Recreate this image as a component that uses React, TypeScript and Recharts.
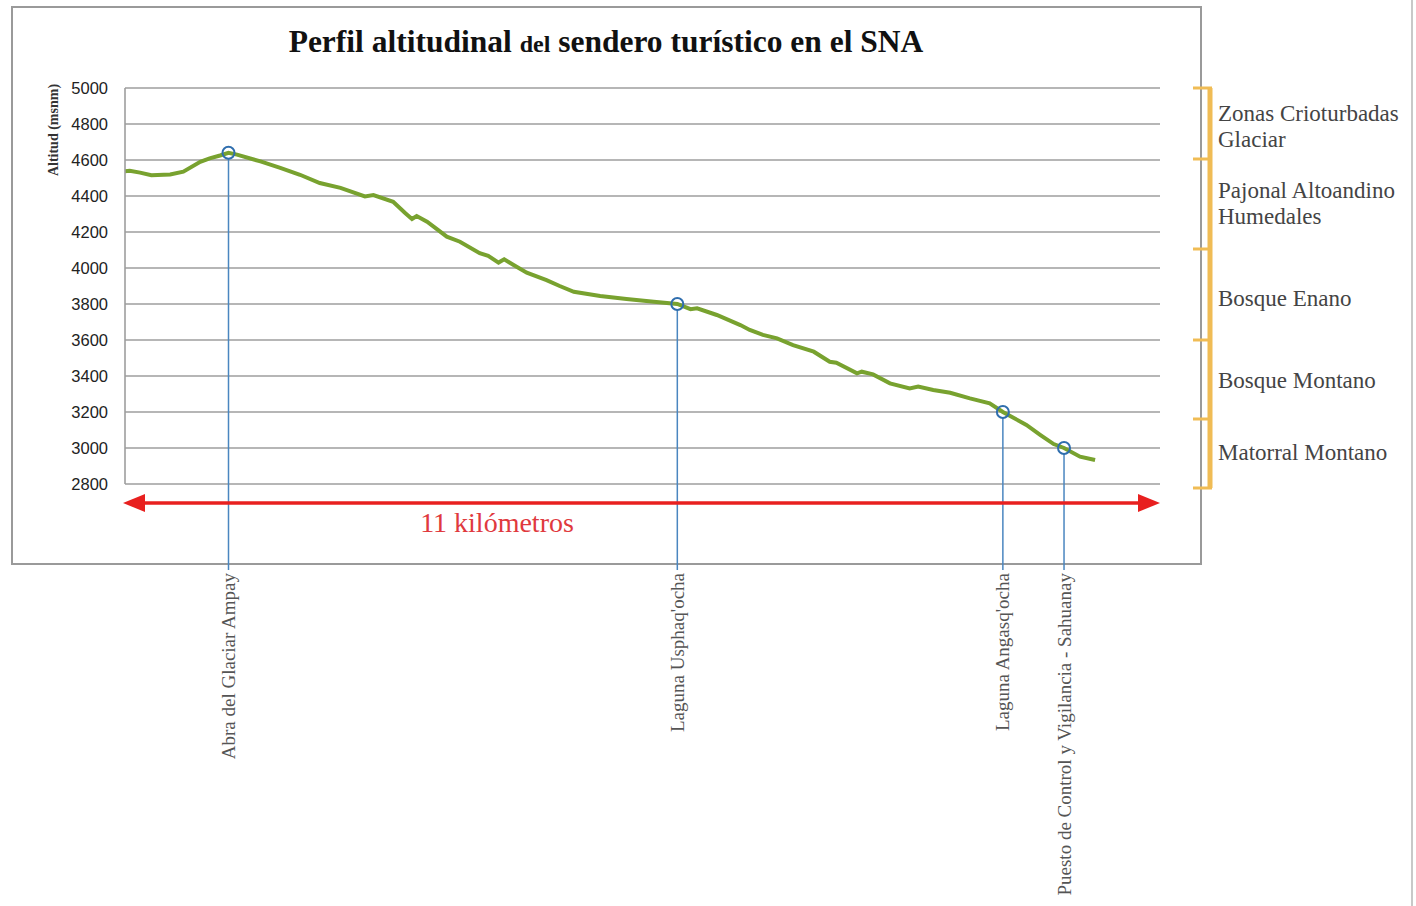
import React from "react";
import {
  ComposedChart,
  Line,
  Scatter,
  XAxis,
  YAxis,
  CartesianGrid,
} from "recharts";

// distance along trail (km) and altitude (msnm)
const distanceKm = [
  0, 0.05, 0.16, 0.28, 0.48, 0.62, 0.8, 0.9, 1.01, 1.1, 1.19, 1.44, 1.65, 1.86,
  2.07, 2.29, 2.55, 2.64, 2.85, 2.98, 3.05, 3.1, 3.21, 3.28, 3.42, 3.56, 3.77,
  3.86, 3.97, 4.03, 4.13, 4.27, 4.48, 4.62, 4.77, 5.05, 5.33, 5.62, 5.87, 6.01,
  6.08, 6.29, 6.54, 6.64, 6.78, 6.93, 7.1, 7.32, 7.49, 7.56, 7.78, 7.83, 7.95,
  8.13, 8.34, 8.43, 8.59, 8.77, 8.98, 9.19, 9.33, 9.58, 9.73, 9.87, 9.98, 10.15,
  10.31,
];
const altitude = [
  4538, 4540, 4530, 4515, 4520, 4535, 4590, 4609, 4625, 4640, 4630, 4592, 4556,
  4518, 4472, 4445, 4398, 4405, 4368, 4304, 4272, 4289, 4257, 4230, 4174, 4146,
  4082, 4067, 4030, 4048, 4017, 3974, 3933, 3900, 3868, 3844, 3828, 3813, 3800,
  3771, 3776, 3739, 3683, 3656, 3628, 3609, 3572, 3535, 3479, 3474, 3415, 3424,
  3409, 3359, 3331, 3341, 3322, 3307, 3276, 3248, 3200, 3128, 3072, 3022, 3000,
  2952, 2933,
];

const markerNames = [
  "Abra del Glaciar Ampay",
  "Laguna Usphaq'ocha",
  "Laguna Angasq'ocha",
  "Puesto de Control y Vigilancia - Sahuanay",
];
const markerKm = [1.1, 5.87, 9.33, 9.98];
const markerAlt = [4640, 3800, 3200, 3000];

const yTicks = [2800, 3000, 3200, 3400, 3600, 3800, 4000, 4200, 4400, 4600, 4800, 5000];

const zoneLabels = [
  ["Zonas Crioturbadas", "Glaciar"],
  ["Pajonal Altoandino", "Humedales"],
  ["Bosque Enano"],
  ["Bosque Montano"],
  ["Matorral Montano"],
];
const zoneLabelY = [121, 198, 306, 388, 460];
const zoneTickY = [88, 159, 249, 340, 419, 488];

const profile = distanceKm.map((km, i) => ({ km, alt: altitude[i] }));
const markers = markerKm.map((km, i) => ({ km, alt: markerAlt[i], name: markerNames[i] }));

const SERIF = "'Liberation Serif', 'DejaVu Serif', serif";

const MarkerShape = (props: any) => {
  const { cx, cy, payload } = props;
  const bottom = 570;
  return (
    <g>
      <line x1={cx} y1={cy + 6} x2={cx} y2={bottom} stroke="#4a86c0" strokeWidth={1.5} />
      <circle cx={cx} cy={cy} r={6} fill="none" stroke="#2f6eae" strokeWidth={2} />
      <text
        x={cx}
        y={bottom + 3}
        transform={`rotate(-90, ${cx}, ${bottom + 3})`}
        textAnchor="end"
        dominantBaseline="central"
        fontFamily={SERIF}
        fontSize={19}
        fill="#555"
      >
        {payload.name}
      </text>
    </g>
  );
};

export default function App() {
  return (
    <div style={{ position: "absolute", left: 0, top: 0, width: 1416, height: 906, background: "#fff" }}>
      <svg width={1416} height={906} style={{ position: "absolute", left: 0, top: 0 }}>
        <rect x={12} y={7} width={1189} height={557} fill="#fff" stroke="#9a9a9a" strokeWidth={2} />
        <line x1={1412} y1={0} x2={1412} y2={906} stroke="#c8c8c8" strokeWidth={2} />
      </svg>
      <div style={{ position: "absolute", left: 0, top: 0 }}>
        <ComposedChart
          width={1416}
          height={906}
          data={profile}
          margin={{ top: 88, right: 256, bottom: 422, left: 65 }}
        >
          <CartesianGrid horizontal vertical={false} stroke="#9e9e9e" strokeWidth={1.6} />
          <XAxis type="number" dataKey="km" domain={[0, 11]} hide />
          <YAxis
            type="number"
            domain={[2800, 5000]}
            ticks={yTicks}
            interval={0}
            width={60}
            axisLine={{ stroke: "#9e9e9e", strokeWidth: 1.6 }}
            tickLine={false}
            tick={{ fill: "#222", fontSize: 16.5, fontFamily: "'Liberation Sans', Arial, sans-serif" }}
            tickMargin={11}
          />
          <Line
            type="linear"
            dataKey="alt"
            stroke="#78a22f"
            strokeWidth={4}
            dot={false}
            isAnimationActive={false}
          />
          <Scatter
            data={markers}
            dataKey="alt"
            shape={<MarkerShape />}
            isAnimationActive={false}
          />
        </ComposedChart>
      </div>
      <svg width={1416} height={906} style={{ position: "absolute", left: 0, top: 0, pointerEvents: "none" }}>
        <text x={606} y={52} textAnchor="middle" fontFamily={SERIF} fontWeight="bold" fill="#111" fontSize={31.5}>
          Perfil altitudinal <tspan fontSize={24}>del</tspan> sendero turístico en el SNA
        </text>
        <text
          x={53}
          y={130}
          transform="rotate(-90, 53, 130)"
          textAnchor="middle"
          dominantBaseline="central"
          fontFamily={SERIF}
          fontWeight="bold"
          fontSize={14}
          fill="#333"
        >
          Altitud (msnm)
        </text>
        {/* distance arrow */}
        <line x1={140} y1={503} x2={1144} y2={503} stroke="#e8201f" strokeWidth={3.5} />
        <polygon points="123,503 145,494 145,512" fill="#e8201f" />
        <polygon points="1160,503 1138,494 1138,512" fill="#e8201f" />
        <text x={497} y={532} textAnchor="middle" fontFamily={SERIF} fontSize={28} fill="#e0393e">
          11 kilómetros
        </text>
        {/* vegetation zones */}
        <line x1={1210} y1={88} x2={1210} y2={488} stroke="#f0bc55" strokeWidth={5} />
        {zoneTickY.map((y, i) => (
          <line key={i} x1={1193} y1={y} x2={1212} y2={y} stroke="#f0bc55" strokeWidth={3} />
        ))}
        {zoneLabels.map((lines, i) => (
          <text key={i} x={1218} y={zoneLabelY[i]} fontFamily={SERIF} fontSize={23} fill="#444">
            {lines.map((t, j) => (
              <tspan key={j} x={1218} dy={j === 0 ? 0 : 26}>
                {t}
              </tspan>
            ))}
          </text>
        ))}
      </svg>
    </div>
  );
}
